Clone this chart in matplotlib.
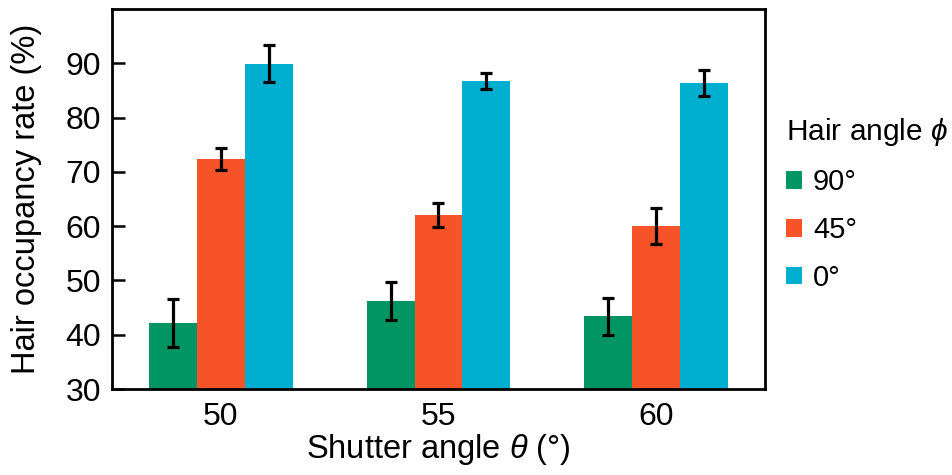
import matplotlib
matplotlib.use("Agg")
import matplotlib.pyplot as plt
import numpy as np

plt.rcParams['font.family'] = ['Liberation Sans', 'DejaVu Sans']
plt.rcParams['mathtext.fontset'] = 'custom'
plt.rcParams['mathtext.rm'] = 'Liberation Sans'
plt.rcParams['mathtext.it'] = 'Liberation Sans:italic'

# 数据
shutterAngles = ['50', '55', '60']
hairLabels = ['90°', '45°', '0°']
colors = ['#009562', '#f65428', '#00aed0']
occupancy = [
  [42.2, 46.2, 43.4],   # 90°
  [72.4, 62.1, 60.0],   # 45°
  [89.9, 86.8, 86.3],   # 0°
]
errors = [
  [4.4, 3.5, 3.4],
  [2.0, 2.2, 3.3],
  [3.4, 1.5, 2.4],
]

fig = plt.figure(figsize = (9.52, 4.75), dpi = 100)
ax = fig.add_axes([0.1176, 0.181, 0.6860, 0.800])

x = np.arange(len(shutterAngles))
width = 0.22
for i in range(len(hairLabels)):
  ax.bar(x + (i - 1) * width, occupancy[i], width, color = colors[i],
    label = hairLabels[i], yerr = errors[i], capsize = 4.5,
    error_kw = dict(elinewidth = 2.3, capthick = 2.3, ecolor = 'black'))

ax.set_xlim(-0.5, 2.5)
ax.set_ylim(30, 100)
ax.set_yticks(range(30, 100, 10))
ax.set_xticks(x)
ax.set_xticklabels(shutterAngles)

for s in ax.spines.values():
  s.set_linewidth(2)

# 刻度朝内
ax.tick_params(axis = 'y', direction = 'in', length = 9, width = 1.8,
  labelsize = 23, pad = 8)
ax.tick_params(axis = 'x', length = 0, labelsize = 23, pad = 9)

ax.set_ylabel('Hair occupancy rate (%)', fontsize = 23.5, labelpad = 17)
ax.set_xlabel(r'Shutter angle $\theta$ (°)', fontsize = 23.5, labelpad = 0)

leg = ax.legend(loc = 'upper left', bbox_to_anchor = (0.8255, 0.755),
  bbox_transform = fig.transFigure, frameon = False, fontsize = 21,
  title = r'Hair angle $\phi$', title_fontsize = 21.5, alignment = 'left',
  handlelength = 0.55, handleheight = 0.55, handletextpad = 0.38,
  labelspacing = 0.68, borderpad = 0, borderaxespad = 0)

fig.savefig('out.png', dpi = 100)
